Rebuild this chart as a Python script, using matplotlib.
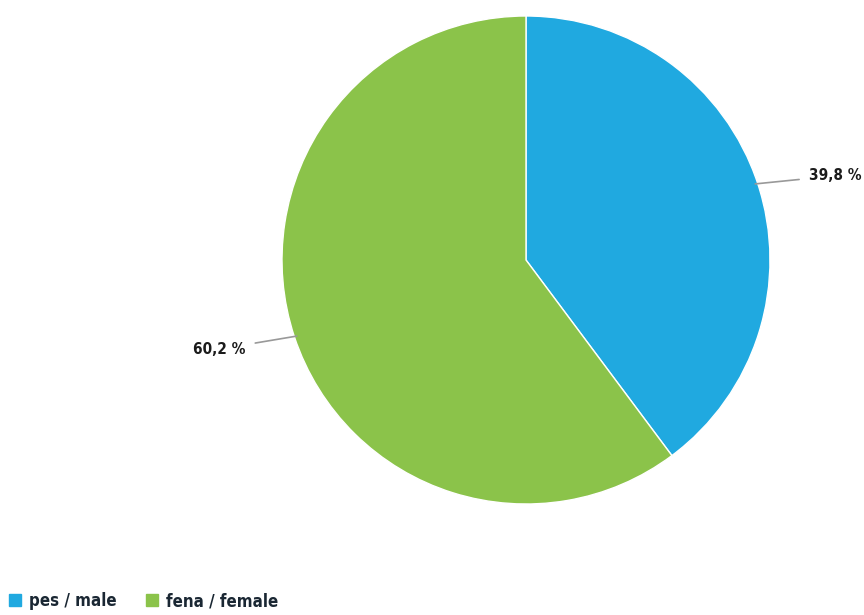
import numpy as np
import matplotlib
matplotlib.use('Agg')
import matplotlib.pyplot as plt
from matplotlib.lines import Line2D

labels = ['pes / male', 'fena / female']
shares = [39.8, 60.2]
value_text = ['39,8 %', '60,2 %']
colors = ['#20a9e0', '#8bc34a']

plt.rcParams['font.family'] = ['Liberation Sans Narrow', 'DejaVu Sans']
plt.rcParams['font.stretch'] = 'condensed'

fig = plt.figure(figsize=(8.64, 6.15), dpi=100)
ax = fig.add_axes([282/864, (615-504)/615, 488/864, 488/615])
wedges, _ = ax.pie(shares, colors=colors, startangle=90, counterclock=False,
                   wedgeprops=dict(edgecolor='white', linewidth=1), radius=1)
ax.set_xlim(-1, 1)
ax.set_ylim(-1, 1)
ax.set_aspect('equal')

# label offsets (x, y) from wedge edge
offsets = [(0.21, 0.03), (-0.2, -0.05)]
for w, txt, (dx, dy) in zip(wedges, value_text, offsets):
    ang = np.deg2rad((w.theta1 + w.theta2) / 2)
    x, y = np.cos(ang), np.sin(ang)
    ax.annotate(txt, xy=(0.99 * x, 0.99 * y),
                xytext=(x + dx, y + dy),
                ha='left' if dx > 0 else 'right', va='center',
                fontsize=11, fontweight='bold', color='#1b1b1b',
                arrowprops=dict(arrowstyle='-', color='#999999', lw=1.2,
                                shrinkA=5, shrinkB=0),
                annotation_clip=False)

handles = [Line2D([], [], marker='s', linestyle='', markersize=9,
                  markerfacecolor=c, markeredgecolor=c) for c in colors]
leg = fig.legend(handles, labels, loc='lower left', bbox_to_anchor=(-0.004, -0.006),
                 ncol=2, frameon=False, handletextpad=0.2, handlelength=1.2,
                 borderaxespad=0.1, columnspacing=1.5,
                 prop=dict(weight='bold', size=12.2))
for t in leg.get_texts():
    t.set_color('#1a2733')

fig.savefig('out.png', dpi=100)
